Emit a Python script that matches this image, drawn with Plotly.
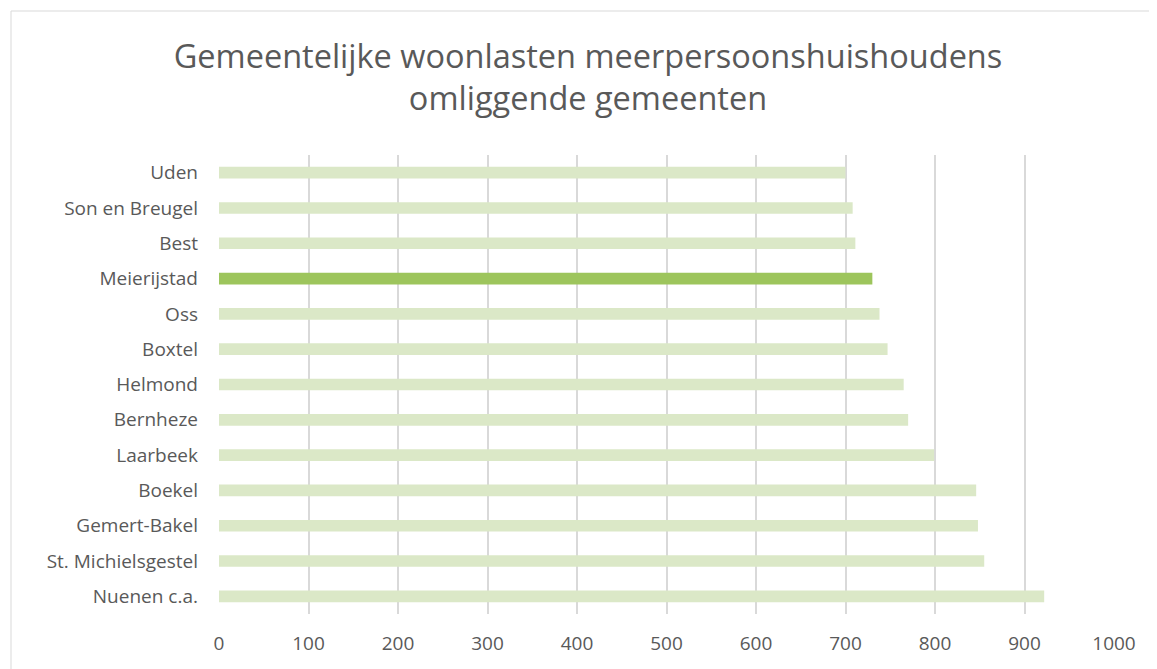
import plotly.graph_objects as go

gemeenten = ["Uden", "Son en Breugel", "Best", "Meierijstad", "Oss", "Boxtel",
             "Helmond", "Bernheze", "Laarbeek", "Boekel", "Gemert-Bakel",
             "St. Michielsgestel", "Nuenen c.a."]
woonlasten = [700, 708, 711, 730, 738, 747, 765, 770, 799, 846, 848, 855, 922]
highlight = "Meierijstad"

light = "#dbe8c7"
dark = "#9dc55c"
colors = [dark if g == highlight else light for g in gemeenten]

OFF = 8  # page body margin
W, H = 1157 - OFF, 669 - OFF
L, R, T, B = 219 - OFF, 43, 155 - OFF, 55
pw, ph = W - L - R, H - T - B

fig = go.Figure(go.Bar(
    x=woonlasten, y=gemeenten, orientation="h",
    marker=dict(color=colors, line=dict(width=0)),
    width=0.33,
))

def px_x(p):
    return (p - OFF - L) / pw

def px_y(p):
    return 1 - (p - OFF - T) / ph

fig.add_shape(type="rect", xref="paper", yref="paper",
              x0=px_x(11), x1=px_x(1170), y0=px_y(11), y1=px_y(690),
              line=dict(color="#d9d9d9", width=1), layer="below")

fig.update_layout(
    width=W, height=H,
    margin=dict(l=L, r=R, t=T, b=B),
    paper_bgcolor="white", plot_bgcolor="white",
    title=dict(
        text="Gemeentelijke woonlasten meerpersoonshuishoudens<br>omliggende gemeenten",
        x=px_x(588), xanchor="center", xref="paper",
        y=1 - (68 - OFF) / H, yanchor="middle",
        font=dict(family="Open Sans", size=32.5, color="#595959"),
    ),
    xaxis=dict(range=[0, 1000], tick0=0, dtick=100, showgrid=True,
               gridcolor="#d9d9d9", gridwidth=1.5, zeroline=False,
               showline=False, ticks="", ticklabelstandoff=16,
               tickfont=dict(family="Open Sans", size=19, color="#595959")),
    yaxis=dict(autorange="reversed", showgrid=False, showline=False,
               ticks="", ticklabelstandoff=20,
               tickfont=dict(family="Open Sans", size=19, color="#595959")),
    showlegend=False,
    bargap=0.67,
)

fig.write_html("out.html")
